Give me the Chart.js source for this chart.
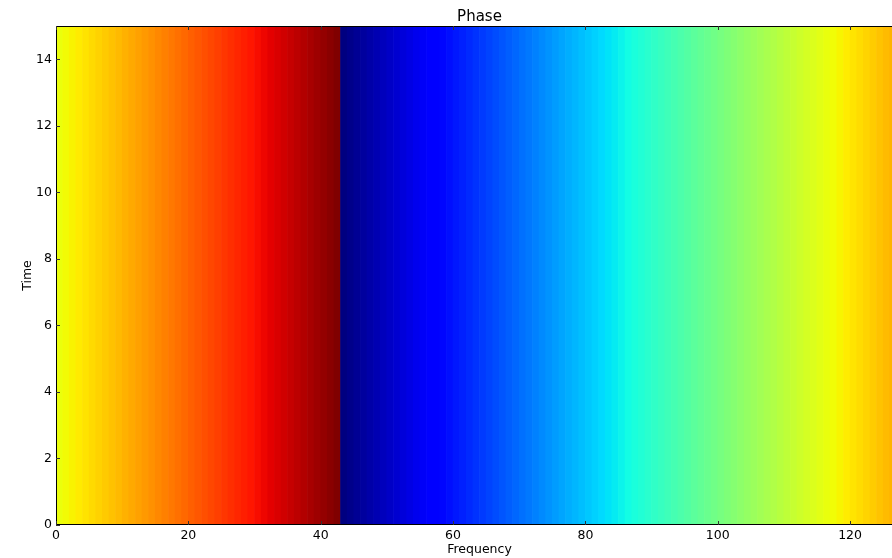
<!DOCTYPE html>
<html>
<head>
<meta charset="utf-8">
<script src="https://cdn.jsdelivr.net/npm/chart.js@4"></script>
<style>
  html, body { margin: 0; padding: 0; background: #fff; overflow: hidden; }
  #wrap { width: 903px; height: 558px; }
</style>
</head>
<body>
<div id="wrap"><canvas id="grafico" width="903" height="558"></canvas></div>
<script>
// Datos: fase (rad) por bin de frecuencia, constante en el tiempo
const frecuencias = Array.from({ length: 128 }, (_, i) => i);
const fase = [
  0.829, 0.883, 0.938, 0.992, 1.046, 1.100, 1.154, 1.208, 1.262, 1.316,
  1.370, 1.424, 1.478, 1.532, 1.586, 1.640, 1.695, 1.749, 1.803, 1.857,
  1.911, 1.965, 2.019, 2.073, 2.127, 2.181, 2.235, 2.289, 2.343, 2.398,
  2.452, 2.506, 2.560, 2.614, 2.668, 2.722, 2.776, 2.830, 2.884, 2.938,
  2.992, 3.046, 3.101, -3.129, -3.075, -3.020, -2.966, -2.912, -2.858, -2.804,
  -2.750, -2.696, -2.642, -2.588, -2.534, -2.480, -2.426, -2.372, -2.318, -2.263,
  -2.209, -2.155, -2.101, -2.047, -1.993, -1.939, -1.885, -1.831, -1.777, -1.723,
  -1.669, -1.615, -1.561, -1.506, -1.452, -1.398, -1.344, -1.290, -1.236, -1.182,
  -1.128, -1.074, -1.020, -0.966, -0.912, -0.858, -0.803, -0.749, -0.695, -0.641,
  -0.587, -0.533, -0.479, -0.425, -0.371, -0.317, -0.263, -0.209, -0.155, -0.101,
  -0.046, 0.008, 0.062, 0.116, 0.170, 0.224, 0.278, 0.332, 0.386, 0.440,
  0.494, 0.548, 0.602, 0.657, 0.711, 0.765, 0.819, 0.873, 0.927, 0.981,
  1.035, 1.089, 1.143, 1.197, 1.251, 1.305, 1.359, 1.414
];
const rangoTiempo = [0, 15];
const ticksX = [0, 20, 40, 60, 80, 100, 120];
const ticksY = [0, 2, 4, 6, 8, 10, 12, 14];

// Mapa de color "jet" (como matplotlib)
const jet = {
  r: [[0, 0], [0.35, 0], [0.66, 1], [0.89, 1], [1, 0.5]],
  g: [[0, 0], [0.125, 0], [0.375, 1], [0.64, 1], [0.91, 0], [1, 0]],
  b: [[0, 0.5], [0.11, 1], [0.34, 1], [0.65, 0], [1, 0]]
};
function canal(puntos, v) {
  for (let k = 1; k < puntos.length; k++) {
    const [x0, y0] = puntos[k - 1];
    const [x1, y1] = puntos[k];
    if (v <= x1) return y0 + (y1 - y0) * (v - x0) / (x1 - x0);
  }
  return puntos[puntos.length - 1][1];
}
function colorJet(v) {
  v = Math.min(1, Math.max(0, v));
  const r = Math.round(canal(jet.r, v) * 255);
  const g = Math.round(canal(jet.g, v) * 255);
  const b = Math.round(canal(jet.b, v) * 255);
  return `rgb(${r},${g},${b})`;
}

const vmin = Math.min(...fase);
const vmax = Math.max(...fase);
const colores = fase.map(p => colorJet((p - vmin) / (vmax - vmin)));

// Título, marco y marcas de eje hacia dentro (estilo matplotlib)
const marcoPlugin = {
  id: 'marco',
  afterDatasetsDraw(chart) {
    const { ctx, chartArea: a, scales } = chart;
    ctx.save();
    ctx.strokeStyle = '#000';
    ctx.lineWidth = 1;
    ctx.strokeRect(a.left + 0.5, a.top + 0.5, a.right - a.left - 1, a.bottom - a.top - 1);
    ctx.beginPath();
    ticksX.forEach(t => {
      const x = Math.round(scales.x.getPixelForValue(t)) + 0.5;
      ctx.moveTo(x, a.bottom); ctx.lineTo(x, a.bottom - 4);
      ctx.moveTo(x, a.top); ctx.lineTo(x, a.top + 4);
    });
    ticksY.forEach(t => {
      const y = Math.round(scales.y.getPixelForValue(t)) + 0.5;
      ctx.moveTo(a.left, y); ctx.lineTo(a.left + 4, y);
      ctx.moveTo(a.right, y); ctx.lineTo(a.right - 4, y);
    });
    ctx.strokeStyle = '#333';
    ctx.stroke();
    ctx.fillStyle = '#000';
    ctx.font = '15px "DejaVu Sans"';
    ctx.textAlign = 'center';
    ctx.textBaseline = 'alphabetic';
    ctx.fillText('Phase', (a.left + a.right) / 2, 21);
    ctx.restore();
  }
};

new Chart(document.getElementById('grafico'), {
  type: 'bar',
  data: {
    datasets: [{
      label: 'Phase',
      data: frecuencias.map((f, i) => ({ x: f + 0.5, y: rangoTiempo })),
      backgroundColor: colores,
      borderWidth: 0,
      barPercentage: 1,
      categoryPercentage: 1,
      grouped: false
    }]
  },
  options: {
    responsive: false,
    animation: false,
    devicePixelRatio: 1,
    layout: { padding: { top: 26, right: 0, bottom: 0, left: 0 } },
    plugins: {
      legend: { display: false },
      tooltip: { enabled: false },
      title: { display: false }
    },
    scales: {
      x: {
        type: 'linear',
        min: 0,
        max: 128,
        offset: false,
        grid: { display: false, drawTicks: false },
        border: { display: false },
        afterFit: s => { s.height = 33; },
        afterBuildTicks: s => { s.ticks = ticksX.map(v => ({ value: v })); },
        ticks: {
          padding: 3,
          color: '#000',
          font: { family: 'DejaVu Sans', size: 12.5 },
          maxRotation: 0
        },
        title: {
          display: true,
          text: 'Frequency',
          color: '#000',
          font: { family: 'DejaVu Sans', size: 12.5 },
          padding: { top: 0, bottom: 1 }
        }
      },
      y: {
        min: 0,
        max: 15,
        grid: { display: false, drawTicks: false },
        border: { display: false },
        afterFit: s => { s.width = 56; },
        afterBuildTicks: s => { s.ticks = ticksY.map(v => ({ value: v })); },
        ticks: {
          padding: 4,
          color: '#000',
          font: { family: 'DejaVu Sans', size: 12.5 }
        },
        title: {
          display: true,
          text: 'Time',
          color: '#000',
          font: { family: 'DejaVu Sans', size: 12.5 },
          padding: { top: 20, bottom: 0 }
        }
      }
    }
  },
  plugins: [marcoPlugin]
});
</script>
</body>
</html>
